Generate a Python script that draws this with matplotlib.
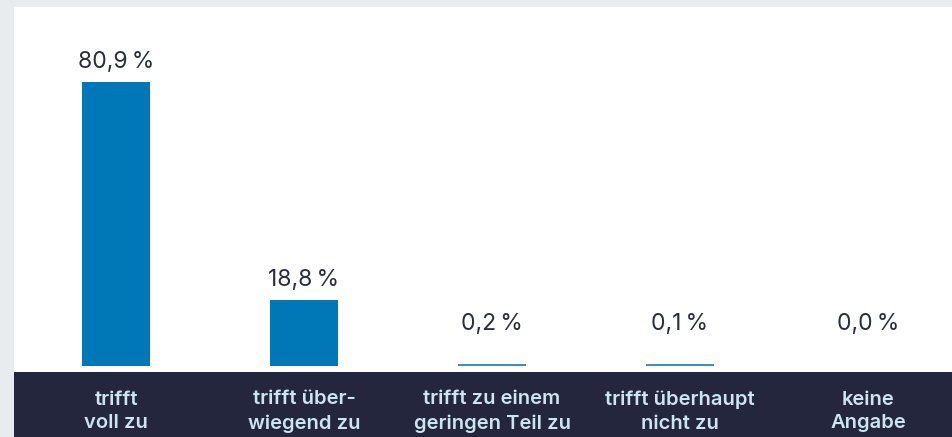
import matplotlib
matplotlib.use("Agg")
import matplotlib.pyplot as plt

categories = ["trifft\nvoll zu", "trifft über-\nwiegend zu", "trifft zu einem\ngeringen Teil zu",
              "trifft überhaupt\nnicht zu", "keine\nAngabe"]
values = [80.9, 18.8, 0.2, 0.1, 0.0]
value_labels = ["80,9\u2009%", "18,8\u2009%", "0,2\u2009%", "0,1\u2009%", "0,0\u2009%"]

plt.rcParams['font.family'] = ['Inter', 'DejaVu Sans']

W, H = 953, 437
fig = plt.figure(figsize=(W / 100, H / 100), dpi=100)
fig.patch.set_facecolor("#e9ecef")

left = 14 / W
band_top = 372
panel_top = 7

ax = fig.add_axes([left, (H - band_top) / H, 1 - left, (band_top - panel_top) / H])
ax.set_facecolor("white")
for s in ax.spines.values():
    s.set_visible(False)
ax.set_xticks([])
ax.set_yticks([])

x = list(range(len(values)))
min_h = 0.6
heights = [max(v, min_h) if v > 0 else 0 for v in values]
colors = ["#0077b6" if v >= 1 else "#3a8fc6" for v in values]
ax.bar(x, heights, width=0.362, color=colors, linewidth=0)
ax.set_xlim(-0.5426, 4.452)
ax.set_ylim(-1.71, 102.3)

for xi, v, lab in zip(x, values, value_labels):
    ypos = max(v, 6.2)
    ax.annotate(lab, (xi, ypos), xytext=(0, 6.5), textcoords="offset points",
                ha="center", va="bottom", fontsize=16.5, color="#2a2d3a")

band = fig.add_axes([left, 0, 1 - left, (H - band_top) / H])
band.set_facecolor("#23263c")
for s in band.spines.values():
    s.set_visible(False)
band.set_xticks([])
band.set_yticks([])
band.set_xlim(ax.get_xlim())
band.set_ylim(0, 1)
for xi, cat in zip(x, categories):
    band.text(xi, 0.39, cat, ha="center", va="center", fontsize=14.5,
              fontweight="semibold", color="#cde4f3", linespacing=1.4)

fig.savefig("out.png", dpi=100, facecolor=fig.get_facecolor())
